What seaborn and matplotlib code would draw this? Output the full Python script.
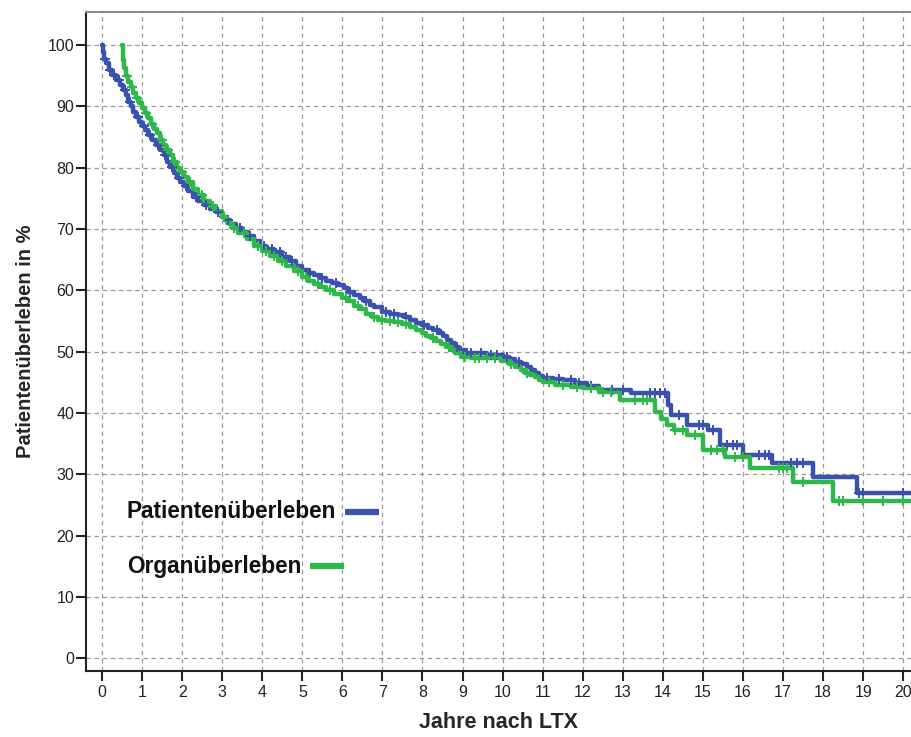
import numpy as np
import pandas as pd
import matplotlib
matplotlib.use("Agg")
import matplotlib.pyplot as plt
from matplotlib.lines import Line2D
import seaborn as sns

# Kaplan-Meier estimates: time (years after LTX) at each step and survival (%) after it
patient_t = [0.0, 0.03, 0.06, 0.1, 0.17, 0.25, 0.35, 0.45, 0.52, 0.6, 0.65, 0.72, 0.78, 0.85,
             0.93, 1.0, 1.08, 1.15, 1.25, 1.35, 1.45, 1.55, 1.62, 1.7, 1.8, 1.88, 1.95, 2.05,
             2.15, 2.27, 2.4, 2.55, 2.7, 2.85, 3.0, 3.1, 3.2, 3.35, 3.5, 3.65, 3.8, 3.95,
             4.1, 4.3, 4.5, 4.7, 4.85, 5.0, 5.15, 5.3, 5.45, 5.6, 5.75, 5.9, 6.05, 6.15,
             6.3, 6.45, 6.55, 6.7, 6.8, 7.0, 7.2, 7.4, 7.55, 7.7, 7.85, 8.0, 8.15, 8.27,
             8.4, 8.5, 8.6, 8.7, 8.8, 8.9, 9.05, 9.3, 9.6, 10.0, 10.15, 10.3, 10.45, 10.6,
             10.7, 10.8, 10.9, 11.0, 11.25, 11.5, 11.8, 12.1, 12.4, 13.2, 14.13, 14.2, 14.6,
             15.13, 15.43, 16.0, 16.73, 17.75, 18.85]
patient_s = [100.0, 98.8, 97.8, 97.0, 95.9, 95.2, 94.3, 93.5, 92.7, 91.8, 90.8, 90.0, 89.1, 88.3,
             87.5, 86.8, 86.1, 85.3, 84.5, 83.7, 82.9, 82.0, 81.0, 80.1, 79.2, 78.4, 77.7, 77.0,
             76.2, 75.3, 74.6, 73.9, 73.3, 72.7, 72.0, 71.4, 70.8, 70.2, 69.5, 68.8, 68.0, 67.3,
             66.8, 66.2, 65.5, 64.8, 64.0, 63.3, 62.9, 62.5, 62.0, 61.6, 61.2, 60.8, 60.3, 59.8,
             59.2, 58.7, 58.2, 57.6, 57.2, 56.5, 56.2, 56.0, 55.6, 55.2, 54.7, 54.3, 53.9, 53.5,
             53.0, 52.5, 51.9, 51.4, 50.8, 50.3, 49.8, 49.7, 49.5, 49.2, 48.8, 48.3, 47.9, 47.5,
             47.0, 46.5, 46.1, 45.7, 45.5, 45.3, 44.9, 44.4, 43.8, 43.2, 41.3, 39.6, 38.0,
             37.2, 34.7, 33.1, 31.8, 29.5, 26.9]

organ_t = [0.5, 0.52, 0.55, 0.6, 0.66, 0.72, 0.78, 0.85, 0.93, 1.0, 1.08, 1.15, 1.22, 1.3,
           1.37, 1.45, 1.53, 1.6, 1.7, 1.78, 1.87, 1.95, 2.05, 2.15, 2.27, 2.4, 2.55, 2.7,
           2.85, 3.0, 3.12, 3.25, 3.4, 3.62, 3.8, 4.0, 4.2, 4.4, 4.6, 4.8, 5.0, 5.15, 5.3,
           5.45, 5.6, 5.8, 6.0, 6.15, 6.3, 6.45, 6.6, 6.75, 6.9, 7.1, 7.3, 7.5, 7.7, 7.85,
           8.0, 8.1, 8.2, 8.33, 8.45, 8.58, 8.7, 8.82, 8.95, 9.2, 9.5, 9.95, 10.15, 10.3,
           10.45, 10.55, 10.68, 10.8, 10.9, 11.0, 11.3, 11.7, 12.0, 12.4, 12.93, 13.8, 13.95,
           14.1, 14.27, 14.6, 15.0, 15.56, 16.18, 17.25, 18.25]
organ_s = [100.0, 97.5, 96.2, 95.0, 94.0, 93.1, 92.2, 91.3, 90.5, 89.8, 89.0, 88.1, 87.2, 86.3,
           85.6, 84.6, 83.7, 82.9, 82.0, 81.0, 80.0, 79.3, 78.5, 77.6, 76.5, 75.6, 74.6, 73.7,
           72.9, 72.0, 71.0, 70.2, 69.3, 68.3, 67.3, 66.4, 65.6, 64.8, 64.0, 63.1, 62.2, 61.6,
           61.0, 60.5, 60.0, 59.4, 58.8, 58.2, 57.5, 56.9, 56.2, 55.7, 55.2, 55.0, 54.8, 54.5,
           54.0, 53.5, 53.0, 52.6, 52.2, 51.8, 51.3, 50.8, 50.2, 49.7, 49.2, 49.0, 48.9, 48.5,
           48.0, 47.5, 47.0, 46.5, 46.2, 45.8, 45.4, 45.0, 44.5, 44.2, 44.0, 43.4, 42.1, 40.1,
           39.0, 38.0, 37.2, 36.4, 33.9, 32.8, 31.0, 28.7, 25.6]

# Censored observations (years)
patient_cens = [0.08, 0.2, 0.3, 0.42, 0.58, 0.7, 0.9, 1.05, 1.2, 1.4, 1.58, 1.75, 1.92, 2.1,
                2.35, 2.6, 2.9, 3.15, 3.45, 3.7, 4.05, 4.25, 4.45, 4.6, 4.75, 5.2, 5.5, 5.85,
                6.2, 6.6, 7.1, 7.3, 7.6, 8.05, 8.35, 8.85, 9.1, 9.2, 9.45, 9.7, 9.85, 10.1,
                10.4, 11.1, 11.4, 11.7, 11.9, 12.2, 12.73, 13.0, 13.68, 13.8, 13.93, 14.05,
                14.4, 14.9, 15.0, 15.25, 15.6, 15.75, 15.85, 16.4, 16.55, 16.65, 17.2, 17.35,
                17.5, 18.9, 19.0, 20.0]
organ_cens = [0.62, 0.75, 0.88, 1.1, 1.25, 1.5, 1.65, 1.82, 2.0, 2.2, 2.5, 2.78, 3.05, 3.3,
              3.55, 3.9, 4.1, 4.3, 4.5, 4.9, 5.1, 5.4, 5.7, 6.1, 6.4, 6.8, 7.0, 7.2, 7.4,
              7.6, 8.25, 8.65, 9.05, 9.3, 9.4, 9.6, 9.8, 10.2, 10.6, 11.15, 11.5, 11.85, 12.2,
              12.5, 12.7, 13.3, 13.5, 13.6, 14.3, 14.5, 14.8, 15.2, 15.35, 15.5, 15.8, 16.0,
              16.9, 17.0, 17.1, 17.5, 18.4, 18.5, 19.0, 19.5, 20.0]

x_ticks = list(range(0, 21))
y_ticks = list(range(0, 101, 10))

series_names = ["Patientenüberleben", "Organüberleben"]
colors = {"Patientenüberleben": "#3a52ae", "Organüberleben": "#2fb84a"}
x_end = 20.3


def step_frame(t, s, name):
    t = list(t) + [x_end]
    s = list(s) + [s[-1]]
    return pd.DataFrame({"Jahre": t, "Ueberleben": s, "Kurve": name})


def censor_frame(cens, t, s, name):
    idx = np.searchsorted(np.asarray(t), np.asarray(cens), side="right") - 1
    return pd.DataFrame({"Jahre": cens, "Ueberleben": np.asarray(s)[idx], "Kurve": name})


curves = pd.concat([step_frame(patient_t, patient_s, series_names[0]),
                    step_frame(organ_t, organ_s, series_names[1])], ignore_index=True)
marks = pd.concat([censor_frame(patient_cens, patient_t, patient_s, series_names[0]),
                   censor_frame(organ_cens, organ_t, organ_s, series_names[1])],
                  ignore_index=True)

sns.set_style("white")
plt.rcParams["font.family"] = ["Liberation Sans", "DejaVu Sans"]

W, H = 912, 737
fig = plt.figure(figsize=(W / 100, H / 100), dpi=100)
ax = fig.add_axes([86 / W, 1 - 671 / H, 826 / W, 659 / H])

sns.lineplot(data=curves, x="Jahre", y="Ueberleben", hue="Kurve", palette=colors,
             drawstyle="steps-post", estimator=None, sort=False, linewidth=3.2,
             legend=False, ax=ax, zorder=3)
for name in series_names:
    sub = marks[marks["Kurve"] == name]
    ax.plot(sub["Jahre"], sub["Ueberleben"], linestyle="none", marker="+",
            markersize=7, markeredgewidth=1.4, color=colors[name], zorder=4)

ax.set_xlim(-0.4, 20.22)
ax.set_ylim(-2.1, 105.4)
ax.set_xticks(x_ticks)
ax.set_yticks(y_ticks)
ax.grid(True, which="major", color="#999999", linestyle=(0, (3.5, 3)), linewidth=0.9)
ax.set_axisbelow(True)

for side in ["left", "bottom"]:
    ax.spines[side].set_color("#222222")
    ax.spines[side].set_linewidth(1.5)
ax.spines["top"].set_color("#8a8a8a")
ax.spines["top"].set_linewidth(1.5)
ax.spines["right"].set_visible(False)

ax.tick_params(axis="x", direction="out", length=7, width=1.5, color="#222222",
               labelsize=11.5, labelcolor="#222222", pad=3, bottom=True)
ax.tick_params(axis="y", direction="out", length=7, width=1.5, color="#222222",
               labelsize=11.5, labelcolor="#222222", pad=1.5, left=True)

ax.set_xlabel("Jahre nach LTX", fontsize=15.5, fontweight="bold", labelpad=9)
ax.set_ylabel("Patientenüberleben in %", fontsize=14.5, fontweight="bold", labelpad=9)

# Key: label text followed directly by a short line sample
key_rows = [(series_names[0], 512), (series_names[1], 566)]
fig.canvas.draw()
renderer = fig.canvas.get_renderer()
for name, ypix in key_rows:
    txt = fig.text(127 / W, 1 - ypix / H, name, fontsize=16.3, fontweight="bold",
                   color="#111111", ha="left", va="center")
    bb = txt.get_window_extent(renderer=renderer)
    x0 = bb.x1 + 9
    fig.add_artist(Line2D([x0 / W, (x0 + 34) / W], [1 - ypix / H, 1 - ypix / H],
                          transform=fig.transFigure, color=colors[name], linewidth=4.5,
                          solid_capstyle="butt"))

fig.savefig("out.png", dpi=100, facecolor="white")
